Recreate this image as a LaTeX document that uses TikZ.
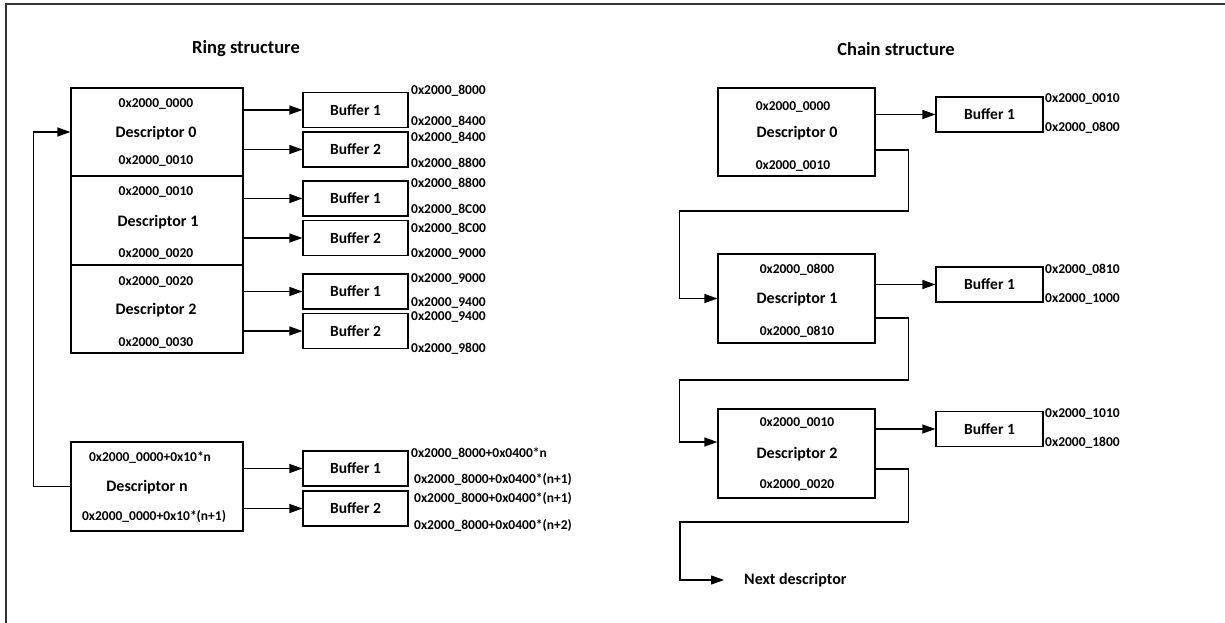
\documentclass[tikz,border=0pt]{standalone}
\usepackage{fontspec}
\setmainfont{Carlito}
\usetikzlibrary{arrows.meta,calc}
\begin{document}
\begin{tikzpicture}[x=1pt,y=-1pt,
  box/.style={draw,line width=1.2pt,inner sep=0pt,anchor=center},
  desc/.style={box,minimum width=172pt},
  cdesc/.style={box,minimum width=157pt,minimum height=88pt},
  buf/.style={box,minimum width=105pt,minimum height=35pt,font=\bfseries\fontsize{15.5}{16}\selectfont},
  cbuf/.style={box,minimum width=107pt,minimum height=35pt,font=\bfseries\fontsize{15.5}{16}\selectfont},
  addr/.style={inner sep=0pt,font=\bfseries\fontsize{13.5}{14}\selectfont},
  raddr/.style={addr,anchor=west},
  dname/.style={inner sep=0pt,font=\bfseries\fontsize{16}{17}\selectfont},
  ttl/.style={inner sep=0pt,font=\bfseries\fontsize{18.5}{19}\selectfont},
  arr/.style={line width=1.2pt,-{Triangle[length=13pt,width=9pt]}},
  ln/.style={line width=1.2pt}]
\useasboundingbox (0,0) rectangle (1225,623);
\draw[line width=1.8pt,black!80] (6,4) rectangle (1240,640);
% titles
\node[ttl] (t1) at (246,49) {Ring structure};
\node[ttl] (t2) at (896,49) {Chain structure};
% ring descriptors
\node[desc,minimum height=88pt] (d0) at (157,132) {};
\node[desc,minimum height=89pt] (d1) at (157,220.5) {};
\node[desc,minimum height=88pt] (d2) at (157,309) {};
\node[desc,minimum height=89pt] (dn) at (157,486.5) {};
\node[addr] (d0a) at (156,104) {0x2000\_0000};
\node[dname] (d0n) at (156,133) {Descriptor 0};
\node[addr] (d0b) at (156,161) {0x2000\_0010};
\node[addr] (d1a) at (156,192) {0x2000\_0010};
\node[dname] (d1n) at (158,222) {Descriptor 1};
\node[addr] (d1b) at (156,254) {0x2000\_0020};
\node[addr] (d2a) at (156,282) {0x2000\_0020};
\node[dname] (d2n) at (156,310) {Descriptor 2};
\node[addr] (d2b) at (156,343) {0x2000\_0030};
\node[addr] (dna) at (150,458) {0x2000\_0000+0x10*n};
\node[dname] (dnn) at (147,487) {Descriptor n};
\node[addr] (dnb) at (154,517) {0x2000\_0000+0x10*(n+1)};
% ring buffers
\node[buf] (b01) at (355.5,110) {Buffer 1};
\node[buf] (b02) at (355.5,149.5) {Buffer 2};
\node[buf] (b11) at (355.5,198.5) {Buffer 1};
\node[buf] (b12) at (355.5,238) {Buffer 2};
\node[buf] (b21) at (355.5,291.5) {Buffer 1};
\node[buf] (b22) at (355.5,331) {Buffer 2};
\node[buf] (bn1) at (355.5,468.5) {Buffer 1};
\node[buf] (bn2) at (355.5,508.5) {Buffer 2};
\foreach \d/\b in {d0/b01,d0/b02,d1/b11,d1/b12,d2/b21,d2/b22,dn/bn1,dn/bn2}
  \draw[arr] (\b -| \d.east) -- (\b.west);
% ring buffer addresses
\node[raddr] (a01) at (411,91) {0x2000\_8000};
\node[raddr] (a02) at (411,122) {0x2000\_8400};
\node[raddr] (a03) at (411,138) {0x2000\_8400};
\node[raddr] (a04) at (411,164) {0x2000\_8800};
\node[raddr] (a11) at (411,184) {0x2000\_8800};
\node[raddr] (a12) at (411,210) {0x2000\_8C00};
\node[raddr] (a13) at (411,229) {0x2000\_8C00};
\node[raddr] (a14) at (411,254) {0x2000\_9000};
\node[raddr] (a21) at (411,279) {0x2000\_9000};
\node[raddr] (a22) at (411,303) {0x2000\_9400};
\node[raddr] (a23) at (411,317) {0x2000\_9400};
\node[raddr] (a24) at (411,349) {0x2000\_9800};
\node[raddr] (an1) at (411,454) {0x2000\_8000+0x0400*n};
\node[raddr] (an2) at (414,480) {0x2000\_8000+0x0400*(n+1)};
\node[raddr] (an3) at (414,499) {0x2000\_8000+0x0400*(n+1)};
\node[raddr] (an4) at (414,526) {0x2000\_8000+0x0400*(n+2)};
% ring loop
\draw[arr] (dn.west) -- ++(-37,0) |- (d0.west);
% chain descriptors
\node[cdesc] (c0) at (796.5,132) {};
\node[cdesc,minimum height=89pt] (c1) at (796.5,298.5) {};
\node[cdesc,minimum height=89pt] (c2) at (796.5,453.5) {};
\node[addr] (c0a) at (793,107) {0x2000\_0000};
\node[dname] (c0n) at (797,133) {Descriptor 0};
\node[addr] (c0b) at (793,166) {0x2000\_0010};
\node[addr] (c1a) at (797,270) {0x2000\_0800};
\node[dname] (c1n) at (797,299) {Descriptor 1};
\node[addr] (c1b) at (797,332) {0x2000\_0810};
\node[addr] (c2a) at (797,423) {0x2000\_0010};
\node[dname] (c2n) at (797,454) {Descriptor 2};
\node[addr] (c2b) at (797,485) {0x2000\_0020};
% chain buffers
\node[cbuf] (cb0) at (989.5,114.5) {Buffer 1};
\node[cbuf] (cb1) at (989.5,284.5) {Buffer 1};
\node[cbuf] (cb2) at (989.5,429) {Buffer 1};
\foreach \d/\b in {c0/cb0,c1/cb1,c2/cb2}
  \draw[arr] (\b -| \d.east) -- (\b.west);
\node[raddr] (ca1) at (1045,99) {0x2000\_0010};
\node[raddr] (ca2) at (1045,128) {0x2000\_0800};
\node[raddr] (ca3) at (1045,270) {0x2000\_0810};
\node[raddr] (ca4) at (1045,299) {0x2000\_1000};
\node[raddr] (ca5) at (1045,414) {0x2000\_1010};
\node[raddr] (ca6) at (1045,443) {0x2000\_1800};
% chain links
\draw[arr] ($(c0.east)+(0,18)$) -- ++(33,0) -- ++(0,61) -| ($(c1.west)+(-38,0)$) -- (c1.west);
\draw[arr] ($(c1.east)+(0,19.5)$) -- ++(33,0) -- ++(0,62) -| ($(c2.west)+(-38,-11.5)$) -- ($(c2.west)+(0,-11.5)$);
\node[dname,anchor=west] (nxt) at (744,580) {Next descriptor};
\coordinate (nend) at (724,580);
\draw[arr] ($(c2.east)+(0,15.5)$) -- ++(33,0) -- ++(0,53) -| ($(nend)+(-44,0)$) -- (nend);
\end{tikzpicture}
\end{document}
